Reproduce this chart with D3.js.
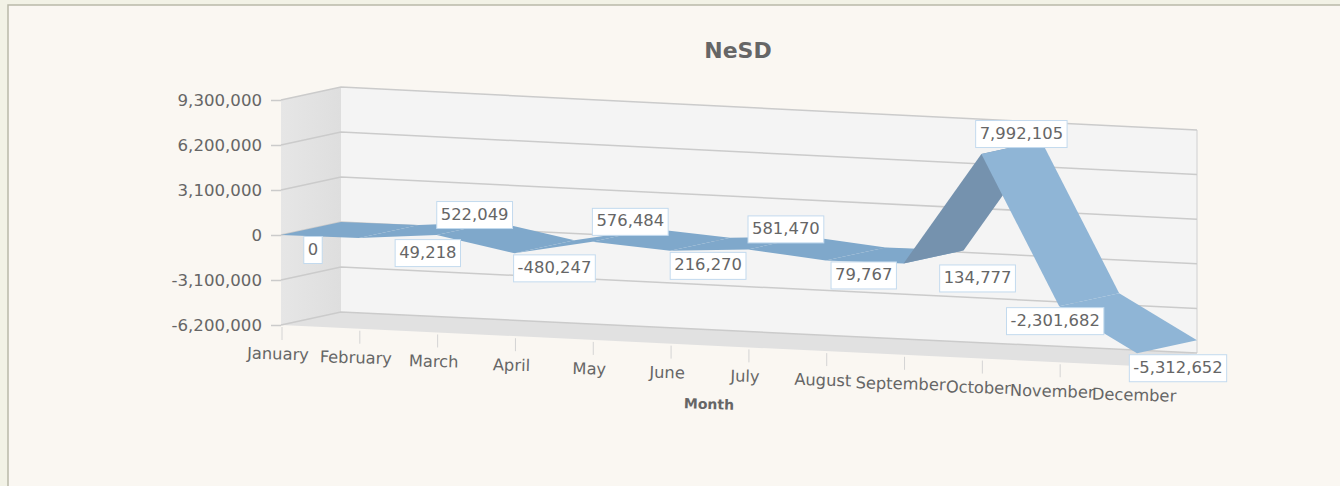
<!DOCTYPE html>
<html>
<head>
<meta charset="utf-8">
<script src="https://cdn.jsdelivr.net/npm/d3@7"></script>
<style>
html, body { margin: 0; padding: 0; background: #f2f2e6; overflow: hidden; }
svg { display: block; font-family: "DejaVu Sans", sans-serif; }
</style>
</head>
<body>
<svg id="chart"></svg>
<script>
var width = 1340;
var height = 486;

// chart data
var months = ["January", "February", "March", "April", "May", "June", "July", "August", "September", "October", "November", "December"];
var nesd = [0, 49218, 522049, -480247, 576484, 216270, 581470, 79767, 134777, 7992105, -2301682, -5312652];
var yTicks = [-6200000, -3100000, 0, 3100000, 6200000, 9300000];
var chartTitle = "NeSD";
var xTitle = "Month";

var textColor = "#666666";
var gridColor = "#cbcbcb";

// 3D look: the front plane falls to the right, the back plane is shifted up and right
var depthX = 60;
var depthY = -13;
var dropBottom = 41; // fall of the floor line across the plot
var dropTop = 43; // fall of the top line across the plot

var x = d3.scalePoint().domain(months).range([281, 1137]);
var y = d3.scaleLinear().domain([-6200000, 9300000]).range([325, 100]);

// d3.format gives a real minus sign, the chart uses a plain hyphen
var commas = d3.format(",");
function fmt(d) { return commas(d).replace("\u2212", "-"); }

// month index (can be fractional), value, depth 0 = front 1 = back
function project(i, value, z) {
	var t = i / (months.length - 1);
	var frac = (value - y.domain()[0]) / (y.domain()[1] - y.domain()[0]);
	var drop = dropBottom + (dropTop - dropBottom) * frac;
	return [
		x(months[0]) + t * (x(months[months.length - 1]) - x(months[0])) + depthX * z,
		y(value) + t * drop + depthY * z
	];
}

var last = months.length - 1;
var yMin = y.domain()[0];
var yMax = y.domain()[1];
var line = d3.line();
function poly(pts) { return line(pts) + "Z"; }

var svg = d3.select("#chart").attr("width", width).attr("height", height);

// panel
svg.append("rect")
	.attr("x", 8).attr("y", 5)
	.attr("width", width + 20).attr("height", height + 20)
	.attr("fill", "#faf7f2")
	.attr("stroke", "#b9b9a9")
	.attr("stroke-width", 1.5);

var defs = svg.append("defs");
var wallGrad = defs.append("linearGradient").attr("id", "wallGrad");
wallGrad.append("stop").attr("offset", "0%").attr("stop-color", "#e6e6e6");
wallGrad.append("stop").attr("offset", "100%").attr("stop-color", "#dedede");

// walls and floor
svg.append("path")
	.attr("d", poly([project(0, yMin, 1), project(last, yMin, 1), project(last, yMax, 1), project(0, yMax, 1)]))
	.attr("fill", "#f4f4f4");
svg.append("path")
	.attr("d", poly([project(0, yMin, 0), project(0, yMin, 1), project(0, yMax, 1), project(0, yMax, 0)]))
	.attr("fill", "url(#wallGrad)");
svg.append("path")
	.attr("d", poly([project(0, yMin, 0), project(0, yMin, 1), project(last, yMin, 1), project(last, yMin, 0)]))
	.attr("fill", "#e1e1e1");

// right edge of the back wall
svg.append("path")
	.attr("d", line([project(last, yMin, 1), project(last, yMax, 1)]))
	.attr("stroke", "#dcdcdc").attr("stroke-width", 1.5).attr("fill", "none");

// gridlines run along the left wall and the back wall
svg.append("g").selectAll("path")
	.data(yTicks)
	.enter()
	.append("path")
	.attr("d", function (d) { return line([project(0, d, 0), project(0, d, 1), project(last, d, 1)]); })
	.attr("fill", "none")
	.attr("stroke", gridColor)
	.attr("stroke-width", 1.5);

// y axis
var yAxis = d3.axisLeft(y)
	.tickValues(yTicks)
	.tickFormat(fmt)
	.tickSize(10)
	.tickPadding(9);
var yG = svg.append("g").attr("transform", "translate(281,0)").call(yAxis);
yG.attr("font-family", null);
yG.select(".domain").remove();
yG.selectAll("line").attr("stroke", gridColor).attr("stroke-width", 1.5);
yG.selectAll("text").attr("fill", textColor).style("font-size", "16.6px");

// x ticks and labels, drawn by hand because the axis falls to the right
svg.append("g").selectAll("line")
	.data(months)
	.enter()
	.append("line")
	.attr("x1", function (d, i) { return project(i, yMin, 0)[0] + 1; })
	.attr("x2", function (d, i) { return project(i, yMin, 0)[0] + 1; })
	.attr("y1", function (d, i) { return project(i, yMin, 0)[1] + 2; })
	.attr("y2", function (d, i) { return project(i, yMin, 0)[1] + 15; })
	.attr("stroke", "#d4d4d4");

svg.append("g").selectAll("text")
	.data(months)
	.enter()
	.append("text")
	.attr("transform", function (d, i) {
		var p = project(i, yMin, 0);
		var nudge = d == "November" ? -7 : -3;
		return "translate(" + (p[0] + nudge) + "," + (p[1] + 30) + ") rotate(1.5)";
	})
	.attr("text-anchor", "middle")
	.attr("dominant-baseline", "middle")
	.attr("fill", textColor)
	.style("font-size", "16.3px")
	.text(function (d) { return d; });

// ribbon, one face per month step, left to right
function faceColor(i) {
	var change = nesd[i + 1] - nesd[i];
	if (change > 3000000) return "#7592ae";
	if (change < -2000000) return "#8fb5d6";
	return "#7fa8cb";
}

svg.append("g").selectAll("path")
	.data(d3.range(last))
	.enter()
	.append("path")
	.attr("d", function (i) {
		return poly([
			project(i, nesd[i], 0),
			project(i + 1, nesd[i + 1], 0),
			project(i + 1, nesd[i + 1], 1),
			project(i, nesd[i], 1)
		]);
	})
	.attr("fill", faceColor);

// value labels, side and sideways shift are picked so they do not hit each other
var labelAbove = [false, false, true, false, true, false, true, false, false, true, false, false];
var labelShift = [32, 69, 38, 40, 38, 38, 38, 38, 74, 40, -4, 41];

var labels = svg.append("g").selectAll("g")
	.data(nesd)
	.enter()
	.append("g")
	.attr("transform", function (d, i) {
		var p = project(i, d, 0);
		return "translate(" + (p[0] + labelShift[i]) + "," + (p[1] + (labelAbove[i] ? -20 : 15)) + ")";
	});

labels.append("rect")
	.attr("fill", "#ffffff")
	.attr("stroke", "#c3daee");

labels.append("text")
	.attr("text-anchor", "middle")
	.attr("dominant-baseline", "middle")
	.attr("fill", textColor)
	.style("font-size", "16.4px")
	.text(fmt);

labels.each(function () {
	var g = d3.select(this);
	var w = g.select("text").node().getComputedTextLength();
	g.select("rect")
		.attr("x", -w / 2 - 4)
		.attr("y", -13.5)
		.attr("width", w + 8)
		.attr("height", 27);
});

// titles
svg.append("text")
	.attr("x", 738).attr("y", 52)
	.attr("text-anchor", "middle")
	.attr("dominant-baseline", "middle")
	.attr("fill", textColor)
	.style("font-size", "22px")
	.style("font-weight", "bold")
	.text(chartTitle);

svg.append("text")
	.attr("transform", "translate(709,405) rotate(1.5)")
	.attr("text-anchor", "middle")
	.attr("dominant-baseline", "middle")
	.attr("fill", textColor)
	.style("font-size", "14px")
	.style("font-weight", "bold")
	.text(xTitle);
</script>
</body>
</html>
